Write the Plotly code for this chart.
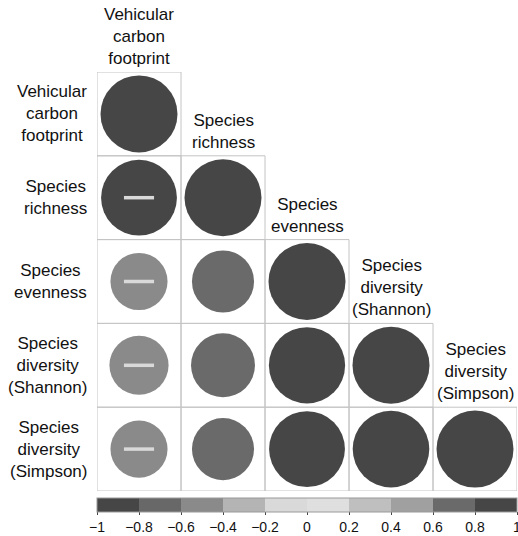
import plotly.graph_objects as go

# ---- data ----
variables = [
    "Vehicular<br>carbon<br>footprint",
    "Species<br>richness",
    "Species<br>evenness",
    "Species<br>diversity<br>(Shannon)",
    "Species<br>diversity<br>(Simpson)",
]
# lower-triangle correlation matrix (row i, col j, j <= i)
corr_rows = [
    [1.00],
    [-0.97, 1.00],
    [-0.55, 0.65, 1.00],
    [-0.59, 0.69, 0.98, 1.00],
    [-0.55, 0.65, 0.97, 0.99, 1.00],
]
bar_colors = ["#464646", "#686868", "#8a8a8a", "#b4b4b4", "#d9d9d9",
              "#dfdfdf", "#bfbfbf", "#a0a0a0", "#6a6a6a", "#464646"]
cbar_tickvals = [-1, -0.8, -0.6, -0.4, -0.2, 0, 0.2, 0.4, 0.6, 0.8, 1]
cbar_ticktext = ["\u22121", "\u22120.8", "\u22120.6", "\u22120.4", "\u22120.2",
                 "0", "0.2", "0.4", "0.6", "0.8", "1"]

FONT = "Liberation Sans, Arial, sans-serif"
n = len(variables)
FULL_D = 77  # px diameter of |r| = 1 circle

xs, ys, vals, sizes = [], [], [], []
neg_x, neg_y = [], []
for i, row in enumerate(corr_rows):
    for j, r in enumerate(row):
        xs.append(j + 0.5)
        ys.append(i + 0.5)
        vals.append(r)
        sizes.append(FULL_D * abs(r) ** 0.5)
        if r < 0:
            neg_x.append(j + 0.5)
            neg_y.append(i + 0.5)

# discrete colorscale
cs = []
nb = len(bar_colors)
for k, c in enumerate(bar_colors):
    cs.append([k / nb, c])
    cs.append([(k + 1) / nb, c])

fig = go.Figure()
fig.add_trace(go.Scatter(
    x=xs, y=ys, mode="markers",
    marker=dict(
        size=sizes, color=vals, colorscale=cs, cmin=-1, cmax=1,
        line=dict(width=0), opacity=1,
        showscale=True,
        colorbar=dict(
            orientation="h", x=0, xanchor="left", y=-0.0143, yanchor="top",
            len=1, lenmode="fraction", thickness=14, xpad=0, ypad=0,
            outlinewidth=1, outlinecolor="#9a9a9a",
            tickmode="array", tickvals=cbar_tickvals, ticktext=cbar_ticktext,
            ticks="outside", ticklen=3, tickcolor="#444",
            ticklabeloverflow="allow",
            tickfont=dict(family=FONT, size=14, color="#111"),
        ),
    ),
    hoverinfo="skip", showlegend=False,
))
fig.add_trace(go.Scatter(
    x=neg_x, y=neg_y, mode="markers",
    marker=dict(symbol="line-ew", size=21.5,
                line=dict(width=3.5, color="#d9d9d9")),
    hoverinfo="skip", showlegend=False,
))

shapes = []
for i in range(n):
    for j in range(i + 1):
        shapes.append(dict(type="rect", xref="x", yref="y",
                           x0=j, x1=j + 1, y0=i, y1=i + 1,
                           line=dict(color="#c4c4c4", width=1),
                           layer="below"))

annotations = []
for i, name in enumerate(variables):
    annotations.append(dict(
        x=0, y=i + 0.5, xref="x", yref="y", text=name, showarrow=False,
        xanchor="right", yanchor="middle", align="center", xshift=-8,
        font=dict(family=FONT, size=17, color="#111")))
    annotations.append(dict(
        x=i + 0.5, y=i, xref="x", yref="y", text=name, showarrow=False,
        xanchor="center", yanchor="bottom", align="center", yshift=2,
        font=dict(family=FONT, size=17, color="#111")))

fig.update_layout(
    width=518, height=536,
    margin=dict(l=97, r=1, t=72, b=44),
    paper_bgcolor="white", plot_bgcolor="white",
    xaxis=dict(range=[0, n], showgrid=False, zeroline=False,
               showticklabels=False, ticks="", fixedrange=True),
    yaxis=dict(range=[n, 0], showgrid=False, zeroline=False,
               showticklabels=False, ticks="", fixedrange=True),
    shapes=shapes, annotations=annotations,
)
fig.write_html(
    "out.html",
    config={"displayModeBar": False},
    post_script="document.body.style.margin='0';document.body.style.overflow='hidden';",
)
